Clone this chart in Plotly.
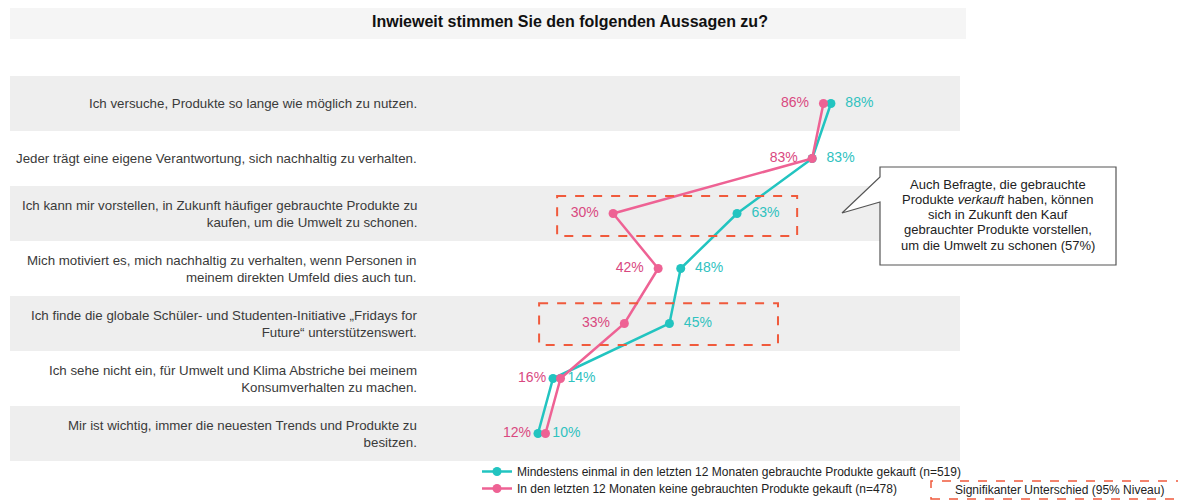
import plotly.graph_objects as go

categories = [
    "Ich versuche, Produkte so lange wie möglich zu nutzen.",
    "Jeder trägt eine eigene Verantwortung, sich nachhaltig zu verhalten.",
    "Ich kann mir vorstellen, in Zukunft häufiger gebrauchte Produkte zu<br>kaufen, um die Umwelt zu schonen.",
    "Mich motiviert es, mich nachhaltig zu verhalten, wenn Personen in<br>meinem direkten Umfeld dies auch tun.",
    "Ich finde die globale Schüler- und Studenten-Initiative „Fridays for<br>Future“ unterstützenswert.",
    "Ich sehe nicht ein, für Umwelt und Klima Abstriche bei meinem<br>Konsumverhalten zu machen.",
    "Mir ist wichtig, immer die neuesten Trends und Produkte zu<br>besitzen.",
]
bought = [88, 83, 63, 48, 45, 14, 10]
not_bought = [86, 83, 30, 42, 33, 16, 12]
name_bought = "Mindestens einmal in den letzten 12 Monaten gebrauchte Produkte gekauft (n=519)"
name_not = "In den letzten 12 Monaten keine gebrauchten Produkte gekauft (n=478)"
significant_rows = [2, 4]
title = "Inwieweit stimmen Sie den folgenden Aussagen zu?"
callout_lines = [
    "Auch Befragte, die gebrauchte",
    "Produkte <i>verkauft</i> haben, können",
    "sich in Zukunft den Kauf",
    "gebrauchter Produkte vorstellen,",
    "um die Umwelt zu schonen (57%)",
]
sig_label = "Signifikanter Unterschied (95% Niveau)"

TEAL = "#22c4c0"
PINK = "#ee6294"
TEAL_T = "#2fc2bf"
PINK_T = "#d9487f"
FONT = "Liberation Sans, Arial, sans-serif"

W, H = 1186, 500
OX, OY = 8, 8  # page body margin
L, R, T, B = 2, 234, 68, 47
PW = W - L - R
PH = H - T - B


def px_x(p):
    return (p - OX - L) / PW


def px_y(p):
    return (H - B - (p - OY)) / PH


ys = list(range(len(categories)))

fig = go.Figure()
fig.add_trace(go.Scatter(
    x=bought, y=ys, name=name_bought, mode="lines+markers+text", legend="legend",
    line=dict(color=TEAL, width=2.5), marker=dict(color=TEAL, size=9),
    text=[f"  {v}%" for v in bought], textposition="middle right",
    textfont=dict(color=TEAL_T, size=14, family=FONT), cliponaxis=False,
))
fig.add_trace(go.Scatter(
    x=not_bought, y=ys, name=name_not, mode="lines+markers+text", legend="legend2",
    line=dict(color=PINK, width=2.5), marker=dict(color=PINK, size=9),
    text=[f"{v}%  " for v in not_bought], textposition="middle left",
    textfont=dict(color=PINK_T, size=14, family=FONT), cliponaxis=False,
))

shapes = []
for i in ys:
    if i % 2 == 0:
        shapes.append(dict(type="rect", xref="paper", yref="y", x0=0, x1=1,
                           y0=i - 0.5, y1=i + 0.5, fillcolor="#eeeeee",
                           line=dict(width=0), layer="below"))
shapes.append(dict(type="rect", xref="paper", yref="paper", x0=px_x(10), x1=px_x(966),
                   y0=px_y(39), y1=px_y(4), fillcolor="#f5f5f5", line=dict(width=0), layer="below"))
sig_boxes = {2: (15.1, 79.0, 1.68, 2.41), 4: (10.3, 73.9, 3.63, 4.39)}
for r in significant_rows:
    x0, x1, y0, y1 = sig_boxes[r]
    shapes.append(dict(type="rect", xref="x", yref="y", x0=x0, x1=x1, y0=y0, y1=y1,
                       line=dict(color="#f05a3c", width=2, dash="dash"), fillcolor="rgba(0,0,0,0)"))
shapes.append(dict(type="rect", xref="paper", yref="paper", x0=px_x(931), x1=px_x(1184),
                   y0=px_y(499), y1=px_y(481), line=dict(color="#f05a3c", width=1.5, dash="dash"),
                   fillcolor="white"))
pts = [(880, 167), (1116, 167), (1116, 265), (880, 265), (880, 202), (842, 213), (880, 177)]
path = "M " + " L ".join(f"{px_x(a)},{px_y(b)}" for a, b in pts) + " Z"
shapes.append(dict(type="path", xref="paper", yref="paper", path=path,
                   fillcolor="white", line=dict(color="#555555", width=1.2)))

annotations = []
for i, c in enumerate(categories):
    annotations.append(dict(text=c, xref="paper", yref="y", x=px_x(419), y=i,
                            xanchor="right", yanchor="middle", align="right", showarrow=False,
                            font=dict(family=FONT, size=13.3, color="#3a3a3a")))
annotations.append(dict(text=f"<b>{title}</b>", xref="paper", yref="paper", x=px_x(570), y=px_y(22),
                        xanchor="center", yanchor="middle", showarrow=False,
                        font=dict(family=FONT, size=16, color="#111111")))
for k, line in enumerate(callout_lines):
    annotations.append(dict(text=line, xref="paper", yref="paper", x=px_x(998), y=px_y(184 + 15.3 * k),
                            xanchor="center", yanchor="middle", align="center", showarrow=False,
                            font=dict(family=FONT, size=13, color="#222222")))
annotations.append(dict(text=sig_label, xref="paper", yref="paper", x=px_x(1059), y=px_y(490),
                        xanchor="center", yanchor="middle", showarrow=False,
                        font=dict(family=FONT, size=12, color="#222222")))

leg_common = dict(xanchor="left", yanchor="top", bgcolor="rgba(0,0,0,0)", itemwidth=30,
                  font=dict(family=FONT, size=12, color="#222222"))
fig.update_layout(
    width=W, height=H, margin=dict(l=L, r=R, t=T, b=B),
    plot_bgcolor="white", paper_bgcolor="white",
    xaxis=dict(range=[-130.57, 122.36], visible=False, fixedrange=True),
    yaxis=dict(range=[6.5, -0.5], visible=False, fixedrange=True),
    shapes=shapes, annotations=annotations,
    legend=dict(x=px_x(477), y=px_y(457), **leg_common),
    legend2=dict(x=px_x(477), y=px_y(474), **leg_common),
    showlegend=True,
)

fig.write_html("out.html")
